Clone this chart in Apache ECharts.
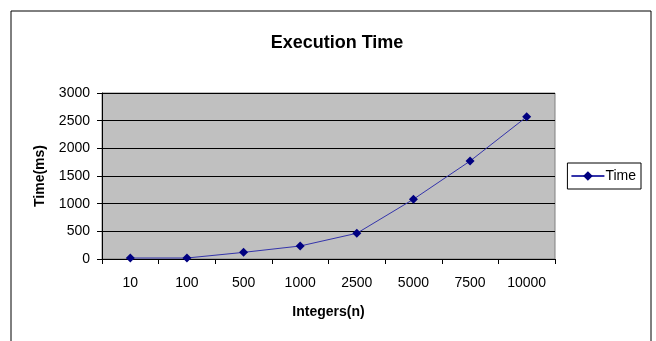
<!DOCTYPE html>
<html><head><meta charset="utf-8">
<script src="https://cdn.jsdelivr.net/npm/echarts@6/dist/echarts.min.js"></script>
<style>html,body{margin:0;padding:0;background:#fff}#c{width:656px;height:341px}</style>
</head><body><div id="c"></div>
<script>
var categories = ['10','100','500','1000','2500','5000','7500','10000'];
var timeValues = [18, 18, 120, 235, 465, 1080, 1770, 2570];
var yTicks = [0, 500, 1000, 1500, 2000, 2500, 3000];

var chart = echarts.init(document.getElementById('c'));
var font = 'Liberation Sans, Arial, sans-serif';
chart.setOption({
  animation: false,
  backgroundColor: '#fff',
  title: { text: 'Execution Time', left: 332, top: 29, textAlign: 'center',
    textStyle: { fontFamily: font, fontSize: 18, fontWeight: 'bold', color: '#000' } },
  grid: { left: 102, right: 101, top: 93, bottom: 82, show: true,
    backgroundColor: '#c0c0c0', borderColor: '#808080', borderWidth: 1 },
  legend: { right: 15, top: 163, orient: 'vertical', borderColor: '#000', borderWidth: 1,
    padding: [6, 5, 6, 3], itemWidth: 33, itemHeight: 12,
    textStyle: { fontFamily: font, fontSize: 14, color: '#000', padding: [0,0,0,-4] },
    data: ['Time'] },
  xAxis: { type: 'category', data: categories, boundaryGap: true,
    name: 'Integers(n)', nameLocation: 'middle', nameGap: 46,
    nameTextStyle: { fontFamily: font, fontSize: 14, fontWeight: 'bold', color: '#000' },
    axisLine: { lineStyle: { color: '#000', width: 1 } },
    axisTick: { show: true, length: 5, lineStyle: { color: '#000' } },
    axisLabel: { fontFamily: font, fontSize: 14, color: '#000', margin: 17 } },
  yAxis: { type: 'value', min: 0, max: 3000, interval: 500,
    name: 'Time(ms)', nameLocation: 'middle', nameGap: 55, nameRotate: 90,
    nameTextStyle: { fontFamily: font, fontSize: 14, fontWeight: 'bold', color: '#000' },
    axisLine: { show: true, lineStyle: { color: '#000', width: 1 } },
    axisTick: { show: true, length: 5, lineStyle: { color: '#000' } },
    axisLabel: { fontFamily: font, fontSize: 14, color: '#000', margin: 12,
      formatter: function (v) { return yTicks.indexOf(v) >= 0 ? String(v) : ''; } },
    splitLine: { show: true, lineStyle: { color: '#000', width: 1 } } },
  series: [{ name: 'Time', type: 'line', data: timeValues,
    symbol: 'diamond', symbolSize: 9,
    lineStyle: { color: '#3333aa', width: 1 },
    itemStyle: { color: '#000080' } }],
  graphic: [
    { type: 'polyline', shape: { points: [[11, 341], [11, 11], [651, 11], [651, 341]] },
      style: { stroke: '#000', lineWidth: 1, fill: null } }
  ]
});
</script></body></html>
